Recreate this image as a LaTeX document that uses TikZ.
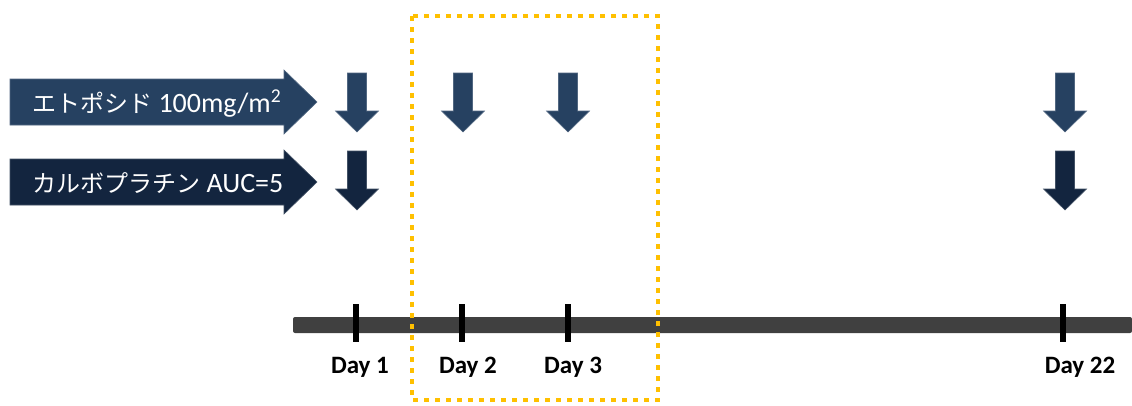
\documentclass[tikz,border=0pt]{standalone}
\usepackage{fontspec}
\setmainfont{Carlito}
\newfontfamily\jp{Noto Sans CJK JP}
\definecolor{etoblue}{HTML}{264161}
\definecolor{carbblue}{HTML}{13253F}
\definecolor{barGray}{HTML}{404040}
\definecolor{boxOrange}{HTML}{FFC000}
\newcommand\JP[1]{{\jp\fontsize{24}{28}\selectfont #1}}
\tikzset{
  drugtext/.style={anchor=base west, text=white, inner sep=0pt, font=\fontsize{28}{32}\selectfont},
  daylabel/.style={inner sep=0pt, font=\bfseries\fontsize{25}{30}\selectfont},
  tickmark/.style={line width=6pt, black},
  periodbox/.style={boxOrange, line width=4.5pt, dash pattern=on 5pt off 6pt},
}
\newcommand\DownArr[3]{% center x, top y, colour
  \fill[#3, draw=#3!80!white, line width=0.6pt]
    (#1-9.5,#2) -- (#1+9.5,#2) -- (#1+9.5,#2+38) -- (#1+21.5,#2+38)
    -- (#1,#2+59) -- (#1-21.5,#2+38) -- (#1-9.5,#2+38) -- cycle;}
\newcommand\BigArr[2]{% top y of body, colour
  \fill[#2, draw=#2!80!white, line width=0.6pt]
    (10,#1) -- (284,#1) -- (284,#1-9) -- (317,#1+23) -- (284,#1+55)
    -- (284,#1+46) -- (10,#1+46) -- cycle;}
\begin{document}
\begin{tikzpicture}[x=1pt,y=-1pt]
\useasboundingbox (0,0) rectangle (1132,405);
% big arrows
\BigArr{79}{etoblue}
\BigArr{159}{carbblue}
\node[drugtext] (eto) at (32,112) {\JP{エトポシド} 100mg/m\textsuperscript{2}};
\node[drugtext] (carb) at (32,192) {\JP{カルボプラチン} AUC=5};
% down arrows
\foreach \x in {357,463,568,1065} {\DownArr{\x}{73}{etoblue}}
\foreach \x in {357,1065} {\DownArr{\x}{151}{carbblue}}
% timeline
\fill[barGray, rounded corners=2pt] (293,317) rectangle (1132,333);
\foreach \x in {356,462,568,1063} {\draw[tickmark] (\x,304) -- (\x,342);}
\node[daylabel] (d1) at (360,367) {Day 1};
\node[daylabel] (d2) at (468,367) {Day 2};
\node[daylabel] (d3) at (573,367) {Day 3};
\node[daylabel] (d22) at (1080,367) {Day 22};
% period box
\draw[periodbox] (412,16) rectangle (658,400);
\end{tikzpicture}
\end{document}
